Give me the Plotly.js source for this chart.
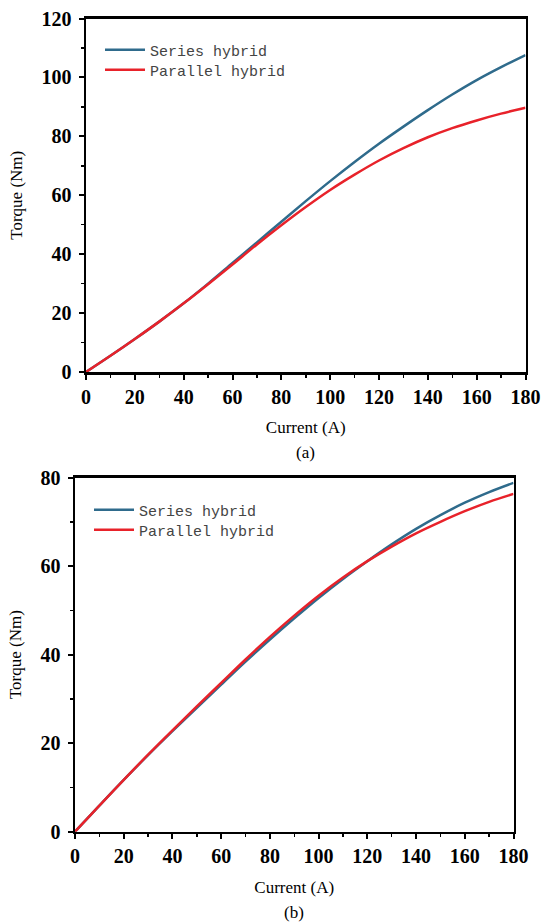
<!DOCTYPE html>
<html>
<head>
<meta charset="utf-8">
<script src="https://cdn.plot.ly/plotly-3.0.1.min.js"></script>
<style>html,body{margin:0;padding:0;background:#fff;}#chart{width:544px;height:924px;}</style>
</head>
<body>
<div id="chart"></div>
<script>
const current = [0,10,20,30,40,50,60,70,80,90,100,110,120,130,140,150,160,170,180];
const seriesA = [0,5.5,11.2,17.1,23.3,30,37,44,51,58,64.8,71.3,77.5,83.3,88.9,94.2,99.1,103.5,107.6];
const parallelA = [0,5.5,11.2,17.1,23.3,29.8,36.5,43.3,49.8,56,61.8,67,71.8,76.0,79.7,82.8,85.4,87.7,89.7];
const seriesB = [0,5.9,11.7,17.3,22.7,28,33.2,38.4,43.4,48.2,52.8,57.1,61.1,64.9,68.4,71.5,74.3,76.7,78.8];
const parallelB = [0,5.9,11.7,17.4,22.9,28.3,33.6,38.9,44,48.8,53.3,57.4,61.1,64.4,67.4,70.0,72.4,74.5,76.3];
const seriesNames = ["Series hybrid","Parallel hybrid"];
const xTitle = "Current (A)";
const yTitle = "Torque (Nm)";
const captions = ["(a)","(b)"];

const blue = "#2F6B8C", red = "#E8222A";
const serif = "Liberation Serif, Times New Roman, serif";
const mono = "Liberation Mono, DejaVu Sans Mono, monospace";

const traces = [
  {x: current, y: seriesA, name: seriesNames[0], xaxis:'x', yaxis:'y', legend:'legend', mode:'lines', line:{color:blue,width:2.5,shape:'spline'}},
  {x: current, y: parallelA, name: seriesNames[1], xaxis:'x', yaxis:'y', legend:'legend2', mode:'lines', line:{color:red,width:2.5,shape:'spline'}},
  {x: current, y: seriesB, name: seriesNames[0], xaxis:'x2', yaxis:'y2', legend:'legend3', mode:'lines', line:{color:blue,width:2.5,shape:'spline'}},
  {x: current, y: parallelB, name: seriesNames[1], xaxis:'x2', yaxis:'y2', legend:'legend4', mode:'lines', line:{color:red,width:2.5,shape:'spline'}}
];

function xax(domain, anchor){
  return {domain: domain, anchor: anchor, range:[0,180], dtick:20, tick0:0, showline:true, mirror:true, linecolor:'#000', linewidth:2.5,
    ticks:'outside', ticklen:5, tickwidth:2, tickcolor:'#000', showgrid:false, zeroline:false,
    minor:{dtick:10, ticks:'outside', ticklen:3, tickwidth:1.5, tickcolor:'#000', showgrid:false},
    tickfont:{family:serif, size:20, color:'#000', weight:'bold'},
    title:{text:xTitle, font:{family:serif, size:17, color:'#000'}, standoff:15}};
}
function yax(domain, anchor, max){
  return {domain: domain, anchor: anchor, range:[0,max], dtick:20, tick0:0, showline:true, mirror:true, linecolor:'#000', linewidth:2.5,
    ticks:'outside', ticklen:5, tickwidth:2, tickcolor:'#000', showgrid:false, zeroline:false,
    minor:{dtick:10, ticks:'outside', ticklen:3, tickwidth:1.5, tickcolor:'#000', showgrid:false},
    tickfont:{family:serif, size:20, color:'#000', weight:'bold'}, ticklabelstandoff:3,
    title:{text:yTitle, font:{family:serif, size:17, color:'#000'}, standoff:15}};
}
function leg(px, py){
  return {x:px/544, y:1-py/924, xanchor:'left', yanchor:'middle', bgcolor:'rgba(0,0,0,0)', borderwidth:0,
    font:{family:mono, size:15, color:'#444'}, tracegroupgap:0, itemwidth:40};
}

const layout = {
  width:544, height:924, margin:{l:0,r:0,t:0,b:0}, paper_bgcolor:'#fff', plot_bgcolor:'#fff',
  showlegend:true,
  xaxis: xax([86/544, 525.5/544], 'y'),
  yaxis: yax([1-372/924, 1-18.5/924], 'x', 120),
  xaxis2: xax([75/544, 513.5/544], 'y2'),
  yaxis2: yax([1-831.7/924, 1-477.5/924], 'x2', 80),
  legend: leg(100, 50),
  legend2: leg(100, 70),
  legend3: leg(89, 510),
  legend4: leg(89, 530),
  annotations: [
    {text:captions[0], x:305/544, y:1-452/924, xref:'paper', yref:'paper', xanchor:'center', yanchor:'middle', showarrow:false, font:{family:serif, size:17, color:'#000'}},
    {text:captions[1], x:294/544, y:1-912/924, xref:'paper', yref:'paper', xanchor:'center', yanchor:'middle', showarrow:false, font:{family:serif, size:17, color:'#000'}}
  ]
};
Plotly.newPlot('chart', traces, layout, {displayModeBar:false, staticPlot:true});
</script>
</body>
</html>
